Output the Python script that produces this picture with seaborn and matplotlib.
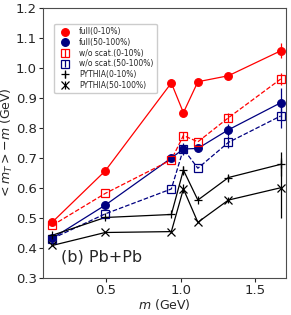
import numpy as np
import pandas as pd
import matplotlib
matplotlib.use("Agg")
import matplotlib.pyplot as plt
import seaborn as sns

# hadron masses: pi, K, p, phi, Lambda, Xi, Omega
mass = [0.140, 0.494, 0.938, 1.019, 1.116, 1.321, 1.672]

full_0_10 = [0.487, 0.657, 0.950, 0.851, 0.954, 0.974, 1.057]
full_50_100 = [0.433, 0.543, 0.700, 0.730, 0.732, 0.794, 0.884]
wo_0_10 = [0.476, 0.582, 0.694, 0.775, 0.754, 0.834, 0.963]
wo_50_100 = [0.432, 0.514, 0.597, 0.730, 0.666, 0.752, 0.840]
pythia_0_10 = [0.443, 0.502, 0.512, 0.660, 0.560, 0.635, 0.679]
pythia_50_100 = [0.409, 0.452, 0.455, 0.597, 0.486, 0.560, 0.601]

err_full_0_10 = [0, 0, 0, 0, 0, 0, 0.025]
err_full_50_100 = [0, 0, 0, 0.015, 0, 0.02, 0.05]
err_wo_0_10 = [0, 0, 0, 0.012, 0, 0.015, 0.02]
err_wo_50_100 = [0, 0, 0, 0.02, 0, 0.02, 0.04]
err_pythia_0_10 = [0, 0, 0, 0.015, 0, 0.01, 0.04]
err_pythia_50_100 = [0, 0, 0, 0.015, 0, 0.01, 0.10]

series = [
    ("full(0-10%)", full_0_10, err_full_0_10, "red", "o", "-", True),
    ("full(50-100%)", full_50_100, err_full_50_100, "navy", "o", "-", True),
    ("w/o scat.(0-10%)", wo_0_10, err_wo_0_10, "red", "s", "--", False),
    ("w/o scat.(50-100%)", wo_50_100, err_wo_50_100, "navy", "s", "--", False),
    ("PYTHIA(0-10%)", pythia_0_10, err_pythia_0_10, "black", "+", "-", True),
    ("PYTHIA(50-100%)", pythia_50_100, err_pythia_50_100, "black", "x", "-", True),
]

sns.set_theme(style="ticks")
plt.rcParams["font.family"] = ["DejaVu Sans"]
plt.rcParams["mathtext.fontset"] = "dejavusans"

fig = plt.figure(figsize=(2.91, 3.15), dpi=100)
ax = fig.add_axes([0.148, 0.117, 0.835, 0.858])

for label, vals, errs, color, marker, ls, filled in series:
    df = pd.DataFrame({"m": mass, "v": vals})
    sns.lineplot(data=df, x="m", y="v", color=color, linestyle=ls, lw=0.9,
                 ax=ax, legend=False, errorbar=None)
    ax.errorbar(mass, vals, yerr=errs, fmt=marker, linestyle="none",
                color=color, ms=5.5 if marker in "os" else 6,
                mfc=color if filled else "none", mew=0.9, elinewidth=0.9,
                capsize=0, label=label)

ax.set_xlim(0.077, 1.708)
ax.set_ylim(0.3, 1.2)
ax.set_xticks([0.5, 1.0, 1.5])
ax.set_yticks(np.arange(0.3, 1.21, 0.1))
ax.tick_params(labelsize=9.5, length=3, width=0.8, pad=1.5)
for s in ax.spines.values():
    s.set_linewidth(0.8)
    s.set_color("0.3")

ax.set_xlabel(r"$m$ (GeV)", fontsize=9, labelpad=0)
ax.set_ylabel(r"$<m_T>-m$ (GeV)", fontsize=9, labelpad=0.5)
ax.text(0.20, 0.37, "(b) Pb+Pb", fontsize=11.5, va="center")

ax.legend(loc="upper left", bbox_to_anchor=(0.03, 0.955), fontsize=5.5,
          labelspacing=0.22, handletextpad=0.8, borderpad=0.45,
          frameon=True, framealpha=1, edgecolor="0.8", fancybox=True)

fig.savefig("out.png", dpi=100)
